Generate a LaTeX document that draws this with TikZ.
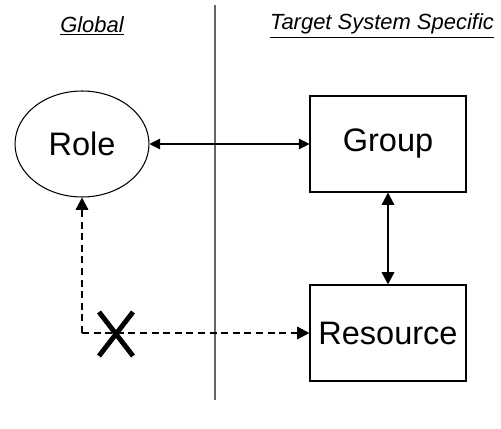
\documentclass[tikz,border=0pt]{standalone}
\usepackage{fontspec}
\setmainfont{Liberation Sans}
\usetikzlibrary{shapes.geometric,arrows.meta}
\begin{document}
\begin{tikzpicture}[x=0.02cm, y=-0.02cm]

    % let's fix the frame and some key points
    \useasboundingbox (0,0) rectangle (501,429);
    \coordinate (top) at (215,5);
    \coordinate (bottom) at (215,400);
    \coordinate (corner) at (82,333);
    \coordinate (cross) at (116,334);

    % Styles
    \tikzstyle{heading}=[font=\fontsize{12.5}{15}\selectfont\itshape]
    \tikzstyle{entity}=[draw, line width=0.6pt, inner sep=0pt, font=\fontsize{18.5}{22}\selectfont]
    \tikzstyle{box}=[entity, rectangle, minimum width=3.12cm, minimum height=1.92cm]
    \tikzstyle{link}=[{Triangle[length=6pt,width=6pt]}-{Triangle[length=6pt,width=6pt]}, line width=0.6pt]
    \tikzstyle{sync}=[{Triangle[length=7pt,width=7pt]}-{Triangle[length=7pt,width=7pt]}, line width=1.3pt]
    \tikzstyle{noway}=[-{Triangle[length=7pt,width=7pt]}, line width=1.3pt, dash pattern=on 4pt off 2.6pt]

    % divider
    \draw[gray!80!black, line width=0.7pt] (top) -- (bottom);

    % headings
    \node[heading] (global) at (92,26) {\underline{Global}};
    \node[heading] (specific) at (382,26) {\underline{Target System Specific}};

    % entities
    \node[entity, ellipse, minimum width=2.68cm, minimum height=2.12cm] (role) at (82,144) {Role};
    \node[box] (group) at (388,144) {Group};
    \node[box] (resource) at (388,333) {Resource};

    % links
    \draw[link] (role) -- (group);
    \draw[sync] (group) -- (resource);
    \draw[noway] (corner) -- (role);
    \draw[noway] (corner) -- (resource);

    % the crossed out link
    \draw[line width=2.8pt] ([shift={(-17,-22)}]cross) -- ([shift={(17,22)}]cross);
    \draw[line width=2.8pt] ([shift={(17,-22)}]cross) -- ([shift={(-17,22)}]cross);

\end{tikzpicture}
\end{document}
